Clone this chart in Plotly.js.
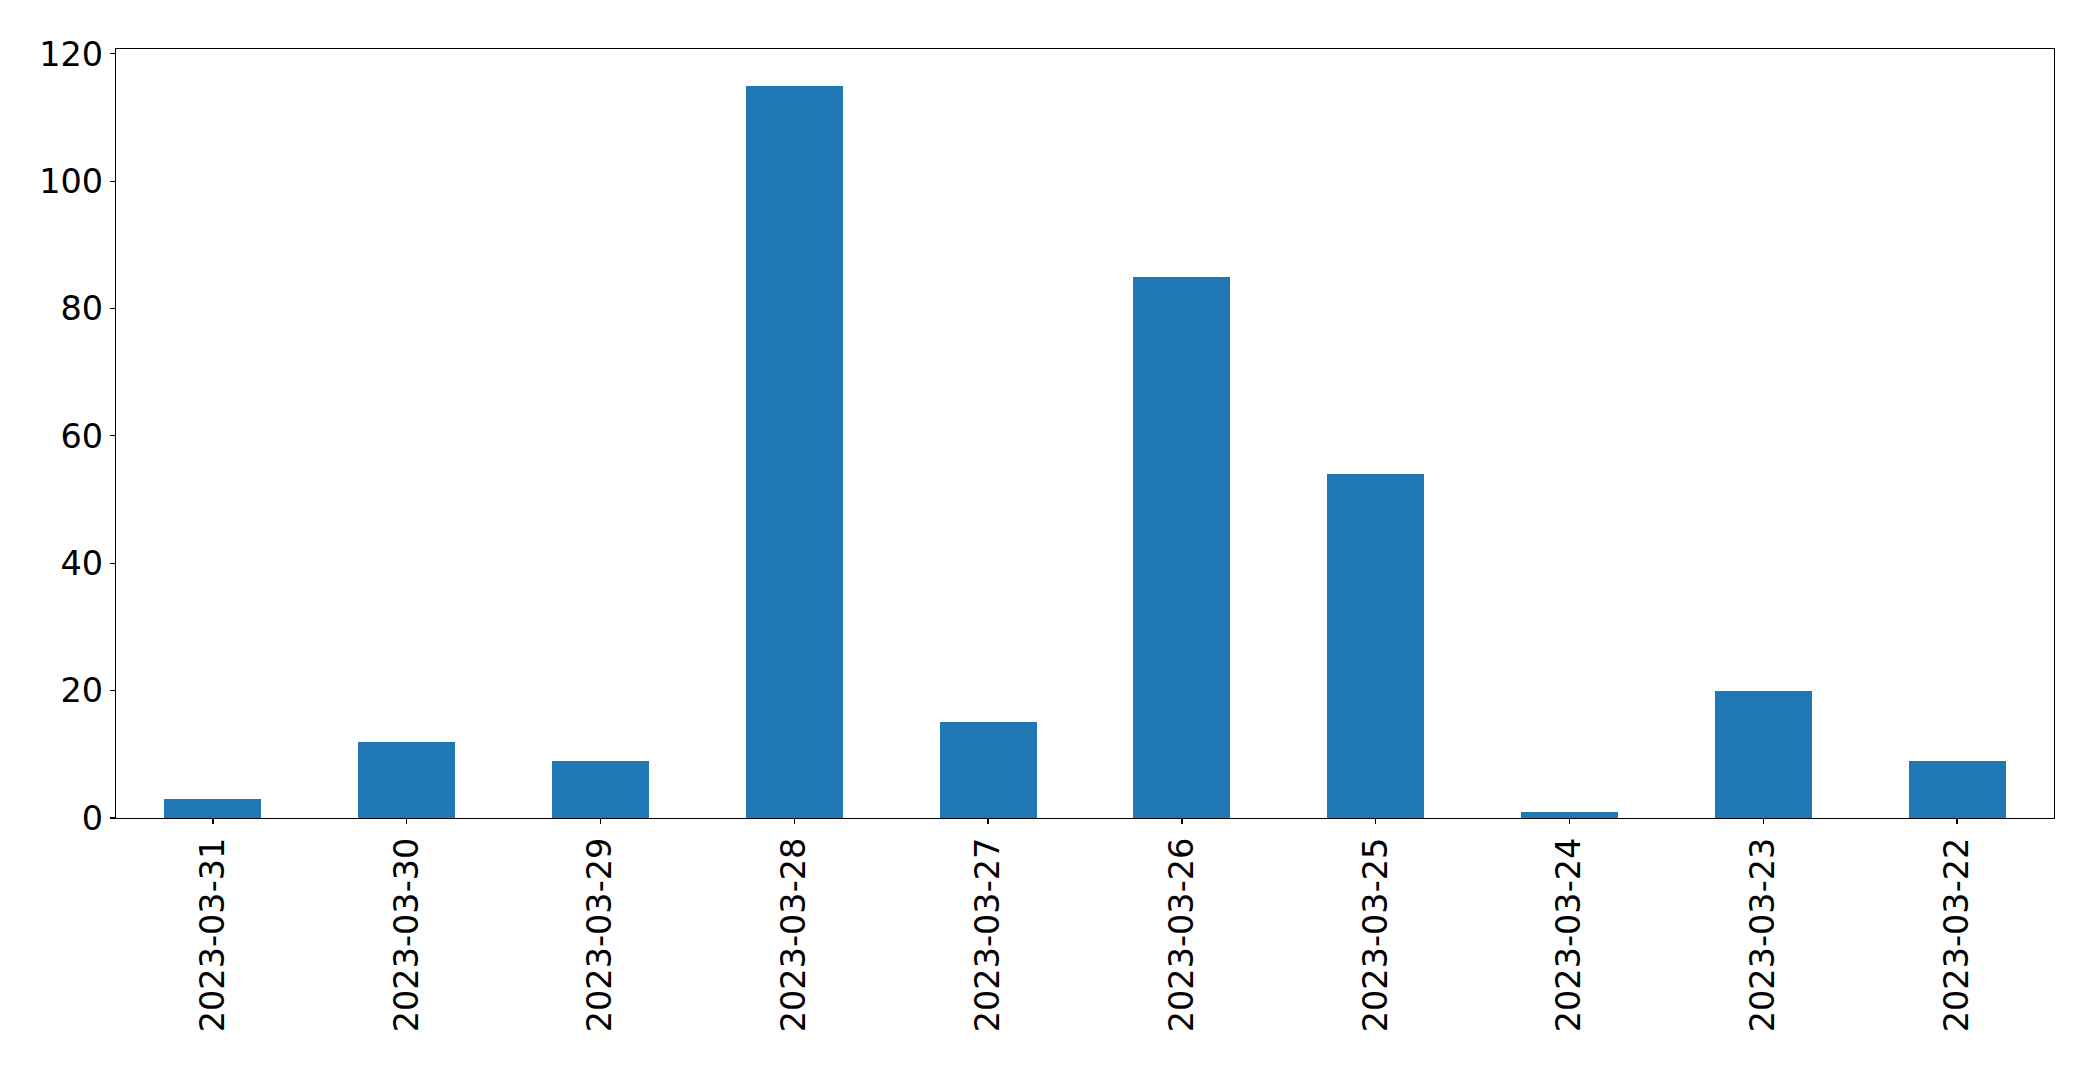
<!DOCTYPE html>
<html>
<head>
<meta charset="utf-8">
<script src="https://cdn.plot.ly/plotly-3.0.1.min.js"></script>
<style>html,body{margin:0;padding:0;background:#fff;}#chart{width:2093px;height:1070px;}</style>
</head>
<body>
<div id="chart"></div>
<script>
const dates = ["2023-03-31","2023-03-30","2023-03-29","2023-03-28","2023-03-27","2023-03-26","2023-03-25","2023-03-24","2023-03-23","2023-03-22"];
const counts = [3, 12, 9, 115, 15, 85, 54, 1, 20, 9];
const yTicks = [0, 20, 40, 60, 80, 100, 120];

const trace = {
  type: 'bar',
  x: dates,
  y: counts,
  width: 0.5,
  marker: {color: '#1f77b4', line: {width: 0}},
  hoverinfo: 'x+y'
};

const fontSpec = {family: 'DejaVu Sans, sans-serif', size: 33.5, color: '#000000'};

const layout = {
  width: 2093,
  height: 1070,
  margin: {l: 116, r: 39, t: 49, b: 252, pad: 0},
  paper_bgcolor: '#ffffff',
  plot_bgcolor: '#ffffff',
  showlegend: false,
  font: fontSpec,
  bargap: 0,
  xaxis: {
    type: 'category',
    range: [-0.5, 9.5],
    tickangle: -90,
    ticks: 'outside',
    ticklen: 5,
    tickwidth: 1.2,
    tickcolor: '#000000',
    showline: true,
    linecolor: '#000000',
    linewidth: 1.2,
    mirror: true,
    showgrid: false,
    zeroline: false,
    tickfont: fontSpec
  },
  yaxis: {
    range: [0, 120.75],
    tickmode: 'array',
    tickvals: yTicks,
    ticktext: yTicks.map(String),
    ticks: 'outside',
    ticklen: 5,
    tickwidth: 1.2,
    tickcolor: '#000000',
    showline: true,
    linecolor: '#000000',
    linewidth: 1.2,
    mirror: true,
    showgrid: false,
    zeroline: false,
    tickfont: fontSpec
  }
};

Plotly.newPlot('chart', [trace], layout, {displayModeBar: false, staticPlot: true});
</script>
</body>
</html>
